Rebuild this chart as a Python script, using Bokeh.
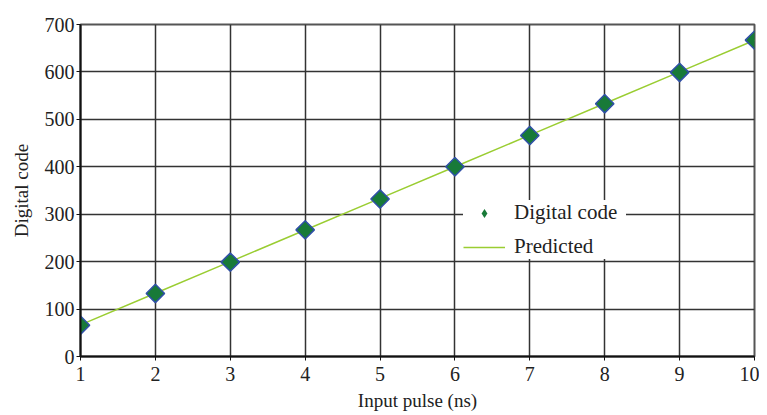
import math
from bokeh.plotting import figure
from bokeh.models import Range1d, Legend, LegendItem, FixedTicker, ColumnDataSource
from bokeh.embed import file_html
from bokeh.resources import INLINE

pulse_ns = [1, 2, 3, 4, 5, 6, 7, 8, 9, 10]
digital_code = [66, 133, 199, 267, 332, 400, 466, 533, 599, 667]
predicted = [66.7, 133.3, 200.0, 266.7, 333.3, 400.0, 466.7, 533.3, 600.0, 666.7]
x_ticks = [1, 2, 3, 4, 5, 6, 7, 8, 9, 10]
y_ticks = [0, 100, 200, 300, 400, 500, 600, 700]

FONT = "Liberation Serif"

p = figure(width=759, height=413, output_backend="svg", toolbar_location=None,
           x_range=Range1d(1, 10), y_range=Range1d(0, 700),
           min_border_left=80, min_border_right=5, min_border_top=24, min_border_bottom=54)

p.xaxis.ticker = FixedTicker(ticks=x_ticks)
p.yaxis.ticker = FixedTicker(ticks=y_ticks)
p.xaxis.axis_label = "Input pulse (ns)"
p.yaxis.axis_label = "Digital code"
for ax in (p.xaxis[0], p.yaxis[0]):
    ax.axis_label_text_font = FONT
    ax.axis_label_text_font_style = "normal"
    ax.axis_label_text_font_size = "19px"
    ax.major_label_text_font = FONT
    ax.major_label_text_font_size = "20px"
    ax.major_label_text_color = "#222222"
    ax.axis_label_text_color = "#222222"
    ax.axis_line_color = "#111111"
    ax.axis_line_width = 2
    ax.major_tick_in = 0
    ax.major_tick_out = 4
    ax.major_tick_line_color = "#111111"
    ax.minor_tick_line_color = None
p.xaxis.axis_label_standoff = 6
p.yaxis.axis_label_standoff = 10
p.xaxis.major_label_standoff = 6
p.yaxis.major_label_standoff = 2

p.xgrid.grid_line_color = "#333333"
p.ygrid.grid_line_color = "#333333"
p.xgrid.grid_line_width = 1.5
p.ygrid.grid_line_width = 1.5
p.outline_line_color = "#555555"
p.outline_line_width = 2
p.background_fill_color = "white"
p.border_fill_color = "white"

src = ColumnDataSource(dict(x=pulse_ns, y=digital_code, pred=predicted))
line = p.line("x", "pred", source=src, line_color="#9acd32", line_width=1.5)
pts = p.scatter("x", "y", source=src, marker="square", angle=math.pi / 4, size=13,
                fill_color="#187a38", line_color="#3050a8", line_width=1.5)
# legend-only marker (no outline, like the reference legend); its point lies outside the fixed range
leg_src = ColumnDataSource(dict(x=[-100], y=[-100]))
leg_pts = p.scatter("x", "y", source=leg_src, marker="diamond", size=13,
                    fill_color="#187a38", line_color=None)

legend = Legend(items=[LegendItem(label="Digital code", renderers=[leg_pts]),
                       LegendItem(label="Predicted", renderers=[line])],
                location=(383, 97), border_line_color=None,
                background_fill_color="white", background_fill_alpha=1.0,
                label_text_font=FONT, label_text_font_size="21px",
                label_text_color="#222222", label_standoff=9, label_width=112,
                glyph_width=42, glyph_height=22, spacing=9, padding=7, margin=0)
p.add_layout(legend, "center")

open("out.html", "w").write(file_html(p, INLINE))
